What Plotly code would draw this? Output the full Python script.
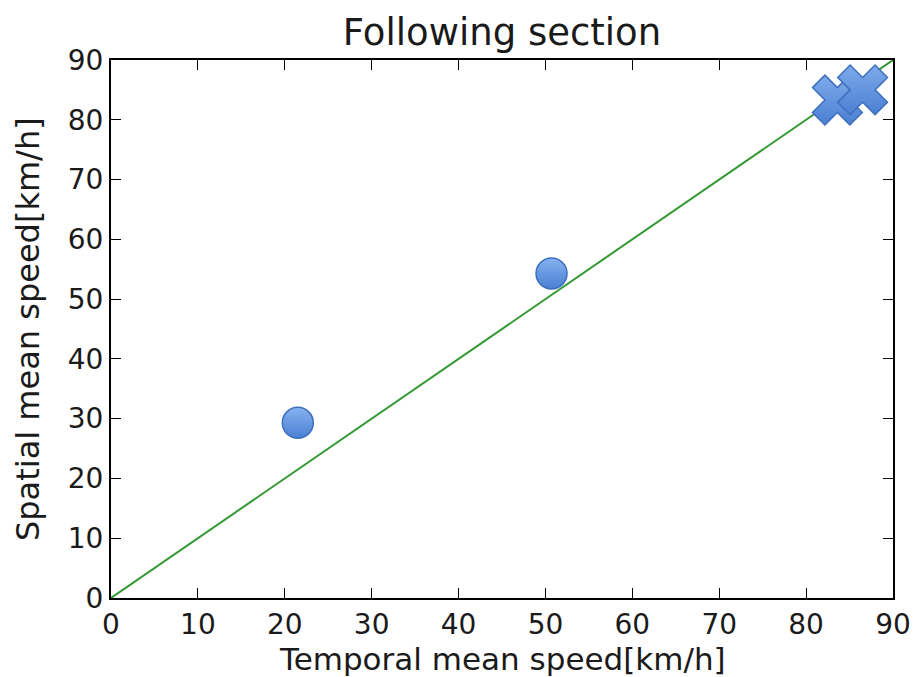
import plotly.graph_objects as go

# Measured speeds (temporal vs spatial mean), km/h
circle_temporal = [21.5, 50.7]
circle_spatial = [29.3, 54.3]
cross_temporal = [83.6, 86.5]
cross_spatial = [83.3, 85.0]

# Reference identity line
line_x = [0, 90]
line_y = [0, 90]

tick_vals = [0, 10, 20, 30, 40, 50, 60, 70, 80, 90]

x_title = "Temporal mean speed[km/h]"
y_title = "Spatial mean speed[km/h]"
chart_title = "Following section"

font_family = "DejaVu Sans"
text_color = "#1a1a1a"

fig = go.Figure()

fig.add_trace(go.Scatter(
    x=line_x, y=line_y, mode="lines",
    line=dict(color="#339933", width=2),
    showlegend=False, hoverinfo="skip",
))

fig.add_trace(go.Scatter(
    x=circle_temporal, y=circle_spatial, mode="markers",
    marker=dict(symbol="circle", size=31, color="#86b2f0",
                gradient=dict(type="vertical", color="#4a7fd2"),
                line=dict(color="#3d6fbf", width=1.5)),
    showlegend=False,
))

fig.add_trace(go.Scatter(
    x=cross_temporal, y=cross_spatial, mode="markers",
    marker=dict(symbol="x", size=44, color="#7eaaea",
                gradient=dict(type="vertical", color="#4a7fd2"),
                line=dict(color="#3d6fbf", width=1.5)),
    showlegend=False,
))

axis_common = dict(
    range=[0, 90], tickvals=tick_vals, automargin=False,
    ticks="inside", ticklen=10, tickwidth=1.2, tickcolor="black",
    showline=True, linecolor="black", linewidth=2, mirror="ticks",
    showgrid=False, zeroline=False,
    tickfont=dict(family=font_family, size=28, color=text_color),
)

fig.update_layout(
    width=914, height=677,
    margin=dict(l=111, r=21, t=60, b=79),
    paper_bgcolor="white", plot_bgcolor="white",
    title=dict(text=chart_title, x=0.5, xanchor="center",
               xref="paper",
               y=1 - 32 / 677, yanchor="middle",
               font=dict(family=font_family, size=37, color=text_color)),
    xaxis=dict(**axis_common),
    yaxis=dict(**axis_common),
)

# Axis titles placed as annotations for precise positioning
fig.add_annotation(
    text=x_title, xref="paper", yref="paper", x=0.5, y=0,
    xanchor="center", yanchor="middle", yshift=-61, showarrow=False,
    font=dict(family=font_family, size=31, color=text_color),
)
fig.add_annotation(
    text=y_title, xref="paper", yref="paper", x=0, y=0.5,
    xanchor="center", yanchor="middle", xshift=-83, textangle=-90,
    showarrow=False,
    font=dict(family=font_family, size=32, color=text_color),
)

fig.write_html("out.html")
